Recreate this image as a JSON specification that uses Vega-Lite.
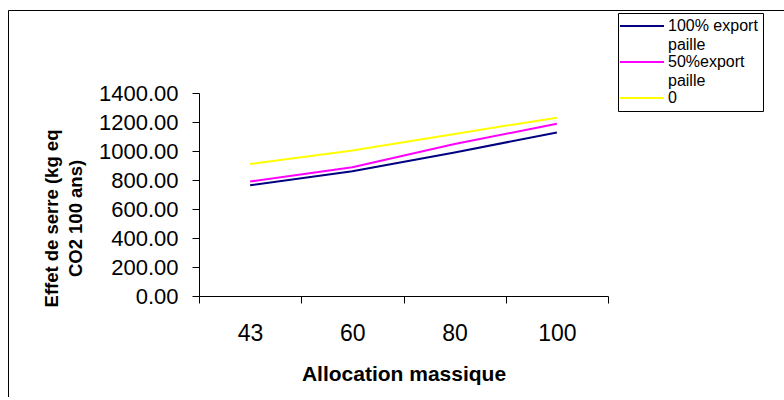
{
  "$schema": "https://vega.github.io/schema/vega-lite/v6.json",
  "autosize": "none",
  "padding": {"left": 8, "top": 10, "right": 0, "bottom": 0},
  "width": 780,
  "height": 387,
  "background": "white",
  "config": {
    "view": {"stroke": "#000000", "strokeWidth": 1},
    "font": "Liberation Sans"
  },
  "data": {
    "values": [
      {"alloc": 43, "series": "100% export paille", "value": 764},
      {"alloc": 60, "series": "100% export paille", "value": 860},
      {"alloc": 80, "series": "100% export paille", "value": 990},
      {"alloc": 100, "series": "100% export paille", "value": 1128},
      {"alloc": 43, "series": "50%export paille", "value": 790},
      {"alloc": 60, "series": "50%export paille", "value": 888},
      {"alloc": 80, "series": "50%export paille", "value": 1048},
      {"alloc": 100, "series": "50%export paille", "value": 1188},
      {"alloc": 43, "series": "0", "value": 910},
      {"alloc": 60, "series": "0", "value": 1003},
      {"alloc": 80, "series": "0", "value": 1118},
      {"alloc": 100, "series": "0", "value": 1230}
    ]
  },
  "mark": {"type": "line", "strokeWidth": 2},
  "encoding": {
    "x": {
      "field": "alloc",
      "type": "ordinal",
      "scale": {"range": [191, 600], "paddingInner": 0, "paddingOuter": 0},
      "axis": {
        "title": "Allocation massique",
        "offset": -101,
        "labelAngle": 0,
        "labelFontSize": 23,
        "labelColor": "#000000",
        "labelPadding": 19,
        "tickBand": "extent",
        "tickSize": 7,
        "tickColor": "#000000",
        "domainColor": "#000000",
        "titleFontSize": 21,
        "titleFontWeight": "bold",
        "titleColor": "#000000",
        "titlePadding": 18
      }
    },
    "y": {
      "field": "value",
      "type": "quantitative",
      "scale": {"domain": [0, 1400], "range": [286, 83], "nice": false, "zero": true},
      "axis": {
        "title": ["Effet de serre (kg eq", "CO2 100 ans)"],
        "offset": -191,
        "values": [0, 200, 400, 600, 800, 1000, 1200, 1400],
        "format": ".2f",
        "grid": false,
        "labelFontSize": 22,
        "labelColor": "#000000",
        "labelPadding": 14,
        "tickSize": 7,
        "tickColor": "#000000",
        "domainColor": "#000000",
        "titleFontSize": 18.5,
        "titleFontWeight": "bold",
        "titleColor": "#000000",
        "titleLineHeight": 24,
        "titleX": -138,
        "titleY": 208,
        "titleAnchor": null
      }
    },
    "color": {
      "field": "series",
      "type": "nominal",
      "scale": {
        "domain": ["100% export paille", "50%export paille", "0"],
        "range": ["#000080", "#FF00FF", "#FFFF00"]
      },
      "legend": {
        "title": null,
        "orient": "none",
        "legendX": 610,
        "legendY": 3,
        "padding": 5,
        "symbolOffset": 11,
        "strokeColor": "#000000",
        "fillColor": "white",
        "symbolType": "M-4,0H4",
        "symbolSize": 121,
        "symbolStrokeWidth": 2,
        "labelFontSize": 16,
        "labelColor": "#000000",
        "labelOffset": 18,
        "labelBaseline": "line-top",
        "rowPadding": 0,
        "labelExpr": "datum.label === '100% export paille' ? ['100% export', 'paille'] : datum.label === '50%export paille' ? ['50%export', 'paille'] : datum.label",
        "encode": {
          "labels": {"update": {"dy": {"value": -9.5}, "lineHeight": {"value": 19}}}
        }
      }
    }
  }
}
